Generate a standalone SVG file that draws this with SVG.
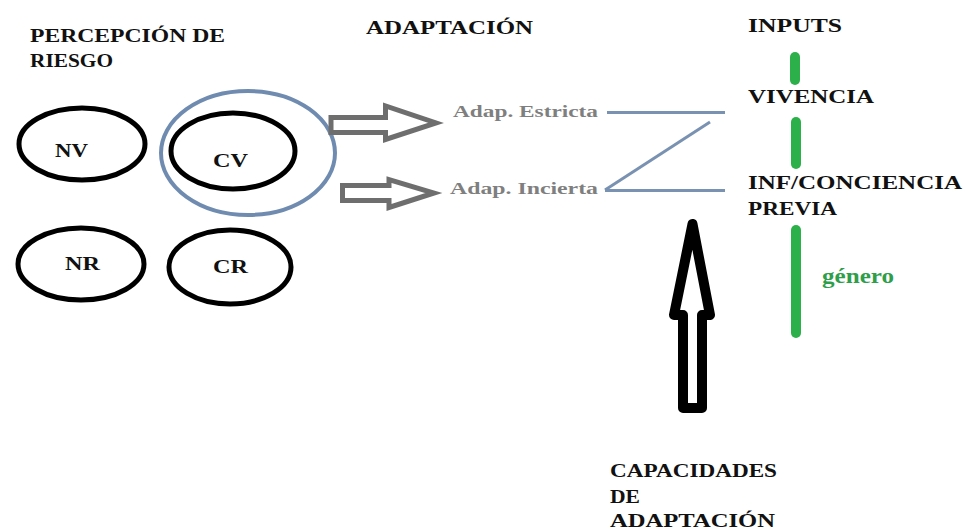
<svg xmlns="http://www.w3.org/2000/svg" width="965" height="531" viewBox="0 0 965 531">
<style>
.t{font-family:"Liberation Serif","DejaVu Serif",serif;font-weight:bold;font-size:19px;fill:#111}
.g{fill:#7f7f7f;font-size:16px}
.e{fill:none;stroke:#000;stroke-width:5}
.ha{fill:#fff;stroke:#6e6e6e;stroke-width:5;stroke-linejoin:miter}
.bl{stroke:#7a92b2;stroke-width:3;fill:none}
.gr{stroke:#2bb04a;stroke-width:10;stroke-linecap:round}
</style>
<rect width="965" height="531" fill="#fff"/>
<g id="titles">
<text class="t" x="30" y="42" textLength="195" lengthAdjust="spacingAndGlyphs">PERCEPCIÓN DE</text>
<text class="t" x="30" y="67" textLength="83" lengthAdjust="spacingAndGlyphs">RIESGO</text>
<text class="t" x="366" y="34" textLength="167" lengthAdjust="spacingAndGlyphs">ADAPTACIÓN</text>
<text class="t" x="748" y="32" textLength="94" lengthAdjust="spacingAndGlyphs">INPUTS</text>
</g>
<g id="NV"><ellipse class="e" cx="82" cy="144" rx="63" ry="36"/><text class="t" x="55" y="157" textLength="33" lengthAdjust="spacingAndGlyphs">NV</text></g>
<g id="CV"><ellipse class="e" cx="233" cy="151" rx="62" ry="38"/><text class="t" x="213" y="167" textLength="35" lengthAdjust="spacingAndGlyphs">CV</text></g>
<g id="CVgroup"><ellipse cx="248" cy="153" rx="87" ry="62" fill="none" stroke="#6f8cb0" stroke-width="4"/></g>
<g id="NR"><ellipse class="e" cx="81" cy="264" rx="63" ry="36"/><text class="t" x="65" y="270" textLength="35" lengthAdjust="spacingAndGlyphs">NR</text></g>
<g id="CR"><ellipse class="e" cx="230" cy="267" rx="61" ry="37"/><text class="t" x="213" y="273" textLength="35" lengthAdjust="spacingAndGlyphs">CR</text></g>
<g id="AdapEstricta"><text class="t g" x="453" y="117" textLength="145" lengthAdjust="spacingAndGlyphs">Adap. Estricta</text></g>
<g id="AdapIncierta"><text class="t g" x="450" y="194" textLength="148" lengthAdjust="spacingAndGlyphs">Adap. Incierta</text></g>
<g id="inputs">
<text class="t" x="748" y="103" textLength="126" lengthAdjust="spacingAndGlyphs">VIVENCIA</text>
<text class="t" x="748" y="189" textLength="214" lengthAdjust="spacingAndGlyphs">INF/CONCIENCIA</text>
<text class="t" x="748" y="215" textLength="89" lengthAdjust="spacingAndGlyphs">PREVIA</text>
<text class="t" x="822" y="283" textLength="72" lengthAdjust="spacingAndGlyphs" style="fill:#2e9e4a;font-size:21px">género</text>
</g>
<g id="capacidades">
<text class="t" x="610" y="477" textLength="167" lengthAdjust="spacingAndGlyphs">CAPACIDADES</text>
<text class="t" x="610" y="503" textLength="30" lengthAdjust="spacingAndGlyphs">DE</text>
<text class="t" x="610" y="527" textLength="165" lengthAdjust="spacingAndGlyphs">ADAPTACIÓN</text>
</g>
<g id="connectors">
<polygon class="ha" points="331,117.5 385.5,117.5 385.5,106 436,123 385.5,139.5 385.5,132.5 331,132.5"/>
<polygon class="ha" points="342.5,185.5 389,185.5 389,179.5 434,193 389,207.5 389,200.5 342.5,200.5"/>
<line class="bl" x1="607" y1="112.5" x2="725" y2="112.5"/>
<line class="bl" x1="710" y1="122" x2="605" y2="190"/>
<line class="bl" x1="605" y1="190.5" x2="725" y2="190.5"/>
<line class="gr" x1="795" y1="57" x2="795" y2="80"/>
<line class="gr" x1="796" y1="122" x2="796" y2="164"/>
<line class="gr" x1="796" y1="230" x2="796" y2="333"/>
<polygon points="692.5,224 710,315 702,315 702,408 683,408 683,315 674,315" fill="#fff" stroke="#000" stroke-width="10" stroke-linejoin="round"/>
</g>
</svg>
